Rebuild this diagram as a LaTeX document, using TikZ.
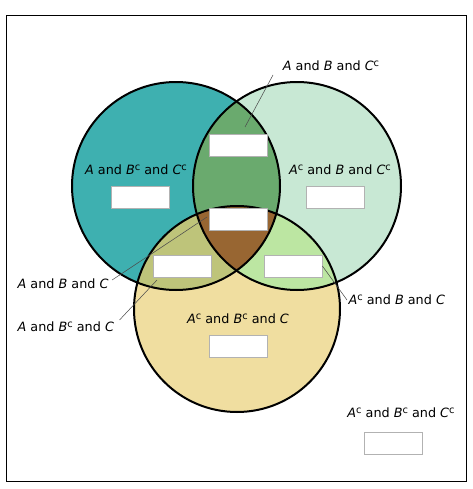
\documentclass[tikz,border=0pt]{standalone}
\usepackage{fontspec}
\setmainfont{DejaVu Sans}
\usepackage{tikz}
\usetikzlibrary{positioning}
\definecolor{setateal}{RGB}{62,176,176}
\definecolor{setbmint}{RGB}{200,232,212}
\definecolor{setcwheat}{RGB}{240,222,160}
\definecolor{abgreen}{RGB}{106,170,110}
\definecolor{acolive}{RGB}{190,196,122}
\definecolor{bclime}{RGB}{188,230,162}
\definecolor{abcbrown}{RGB}{152,102,50}
\newcommand{\setv}[1]{\textit{#1}}
\newcommand{\setcmp}[1]{\textit{#1}\raisebox{0.55ex}{\fontsize{7.4}{8}\selectfont c}}
\tikzset{
  answerbox/.style={draw=black!30, fill=white, line width=0.6pt, minimum width=43.5pt, minimum height=16.5pt, inner sep=0pt},
  setlabel/.style={font=\fontsize{9.6}{11}\selectfont, inner sep=1pt},
  leader/.style={draw=black!70, line width=0.4pt},
  setring/.style={draw=black, line width=1.5pt}
}
\begin{document}
\begin{tikzpicture}[x=0.75pt, y=-0.75pt]
  \useasboundingbox (0,0) rectangle (472,489);
  \draw[black, line width=0.7pt] (6.5,15) rectangle (466,481);
  % set regions
  \fill[setateal] (176,186) circle (104);
  \fill[setbmint] (297,186) circle (104);
  \fill[setcwheat] (237,309) circle (103);
  \begin{scope}
    \clip (176,186) circle (104);
    \fill[abgreen] (297,186) circle (104);
    \fill[acolive] (237,309) circle (103);
  \end{scope}
  \begin{scope}
    \clip (297,186) circle (104);
    \fill[bclime] (237,309) circle (103);
  \end{scope}
  \begin{scope}
    \clip (176,186) circle (104);
    \clip (297,186) circle (104);
    \fill[abcbrown] (237,309) circle (103);
  \end{scope}
  \draw[setring] (176,186) circle (104);
  \draw[setring] (297,186) circle (104);
  \draw[setring] (237,309) circle (103);
  % answer boxes
  \node[answerbox] (boxab) at (238,145) {};
  \node[answerbox] (boxa) at (140,197) {};
  \node[answerbox] (boxb) at (335,197) {};
  \node[answerbox] (boxabc) at (238,219) {};
  \node[answerbox] (boxac) at (182,266) {};
  \node[answerbox] (boxbc) at (293,266) {};
  \node[answerbox] (boxc) at (238,346) {};
  \node[answerbox] (boxnone) at (393,443) {};
  % labels
  \node[setlabel] (labab) at (331,66) {\setv{A} and \setv{B} and \setcmp{C}};
  \node[setlabel] (laba) at (136,170) {\setv{A} and \setcmp{B} and \setcmp{C}};
  \node[setlabel] (labb) at (340,170) {\setcmp{A} and \setv{B} and \setcmp{C}};
  \node[setlabel, anchor=west] (lababc) at (16,284) {\setv{A} and \setv{B} and \setv{C}};
  \node[setlabel, anchor=west] (labac) at (16,327) {\setv{A} and \setcmp{B} and \setv{C}};
  \node[setlabel, anchor=west] (labbc) at (347,300) {\setcmp{A} and \setv{B} and \setv{C}};
  \node[setlabel] (labc) at (238,319) {\setcmp{A} and \setcmp{B} and \setv{C}};
  \node[setlabel] (labnone) at (401,413) {\setcmp{A} and \setcmp{B} and \setcmp{C}};
  % leader lines
  \coordinate (ptab) at (245,127);
  \coordinate (ptabc) at (207,217);
  \coordinate (ptac) at (157,280);
  \draw[leader] (273,75) -- (ptab);
  \draw[leader] (lababc.east) ++(2,-4) -- (ptabc);
  \draw[leader] (labac.east) ++(4,-7) -- (ptac);
  \draw[leader] (boxbc.east) -- (labbc.west);
\end{tikzpicture}
\end{document}
